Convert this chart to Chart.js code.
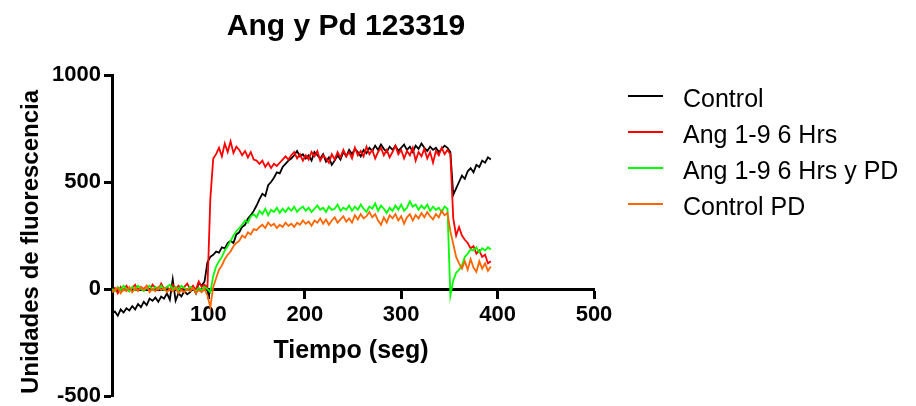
<!DOCTYPE html>
<html>
<head>
<meta charset="utf-8">
<script src="https://cdn.jsdelivr.net/npm/chart.js@4.4.1/dist/chart.umd.min.js"></script>
<style>
  html, body { margin: 0; padding: 0; background: #fff; }
  #wrap { width: 916px; height: 406px; }
</style>
</head>
<body>
<div id="wrap"><canvas id="myChart" width="916" height="406"></canvas></div>
<script>
// tiempo (seg)
const times = [0,3,6,9,12,15,18,21,24,27,30,33,36,39,42,45,48,51,54,57,60,63,66,69,72,75,78,81,84,87,90,93,96,99,
  102,105,108,111,114,117,120,123,126,129,132,135,138,141,144,147,150,153,156,159,162,165,168,171,174,177,180,183,186,189,192,195,198,
  201,204,207,210,213,216,219,222,225,228,231,234,237,240,243,246,249,252,255,258,261,264,267,270,273,276,279,282,285,288,291,294,297,
  300,303,306,309,312,315,318,321,324,327,330,333,336,339,342,345,348,351,354,357,360,363,366,369,372,375,378,381,384,387,390,393];

const control = [-115,-105,-125,-95,-110,-90,-100,-80,-95,-70,-85,-60,-75,-45,-55,-40,-60,-35,-45,-20,-50,45,-55,-20,-35,-10,-25,-15,5,-20,30,15,35,125,
  150,160,175,170,195,190,215,225,215,255,265,290,300,330,345,365,390,420,445,435,485,500,520,545,540,570,585,600,610,625,645,620,630,
  610,625,600,640,625,610,630,595,615,580,600,625,605,640,620,650,630,655,640,620,650,635,660,645,670,650,675,655,640,665,650,670,645,
  660,675,650,665,640,670,655,680,660,645,665,650,660,640,655,670,660,640,440,470,500,530,515,550,565,545,580,570,600,590,615,605];

const ang = [-10,5,-20,10,-5,15,-10,5,20,-5,10,0,15,-10,20,5,-5,25,0,10,-5,20,0,15,-5,10,25,0,15,-5,35,10,20,5,
  420,610,630,660,620,680,640,690,635,665,650,625,645,615,640,605,600,585,600,570,590,565,585,575,590,605,620,605,625,640,610,630,600,
  625,605,640,620,645,600,625,610,590,630,605,640,615,650,620,640,610,660,625,645,620,665,630,650,610,640,660,625,650,615,640,670,630,
  650,610,645,625,660,600,640,620,655,610,640,590,645,625,660,630,650,630,330,250,290,250,230,215,190,200,165,180,150,160,120,130];

const angPd = [0,-10,10,-5,15,0,-10,10,-5,15,0,-10,5,15,-5,10,0,15,-5,10,20,0,10,-5,15,5,-5,10,0,-10,5,-5,10,0,
  -15,60,105,130,150,180,200,225,250,270,285,300,320,310,340,350,335,365,350,375,345,370,360,380,355,375,360,380,365,385,360,375,385,
  365,380,360,375,390,370,380,360,385,370,375,395,365,380,370,390,365,385,370,395,375,360,385,375,400,365,390,375,355,380,365,390,370,
  395,365,380,410,385,395,370,390,375,395,365,385,370,380,360,385,375,-30,40,75,90,110,150,165,185,180,195,170,190,180,195,185];

const controlPd = [-15,-5,5,-20,0,-10,10,-15,5,-10,10,-5,15,-15,0,-10,10,-5,5,-15,0,-10,5,-20,-5,-15,0,-10,5,-20,-5,-15,0,-30,
  -85,10,50,90,110,140,160,175,200,215,225,250,240,265,255,280,275,290,300,285,310,295,305,285,300,290,310,295,305,290,310,300,320,
  305,315,295,320,310,330,305,325,300,320,335,310,325,340,315,330,310,345,325,350,330,340,360,335,350,320,300,335,310,345,330,350,320,
  340,305,335,350,320,345,330,355,335,360,340,325,350,335,365,345,355,270,210,150,120,95,130,90,140,100,80,130,95,120,85,105];

const seriesNames = ['Control', 'Ang 1-9 6 Hrs', 'Ang 1-9 6 Hrs y PD', 'Control PD'];
const seriesColors = ['#000000', '#ff0000', '#00ff00', '#ff6600'];
const xTicks = [0, 100, 200, 300, 400, 500];
const yTicks = [-500, 0, 500, 1000];

function toPoints(values){
    return times.map(function(t, i){ return {x: t, y: values[i]}; });
}

// titulo, titulos de ejes y leyenda dibujados a mano
const textPlugin = {
    id: 'textPlugin',
    afterDraw(chart){
        const ctx = chart.ctx;
        ctx.save();
        ctx.fillStyle = '#000';
        ctx.textBaseline = 'alphabetic';

        ctx.font = 'bold 30px "Liberation Sans", Arial, sans-serif';
        ctx.textAlign = 'center';
        ctx.fillText('Ang y Pd 123319', 346, 35);

        ctx.font = 'bold 25px "Liberation Sans", Arial, sans-serif';
        ctx.fillText('Tiempo (seg)', 351, 358);

        ctx.save();
        ctx.translate(38, 242);
        ctx.rotate(-Math.PI / 2);
        ctx.font = 'bold 24px "Liberation Sans", Arial, sans-serif';
        ctx.fillText('Unidades de fluorescencia', 0, 0);
        ctx.restore();

        ctx.textAlign = 'left';
        ctx.font = '25px "Liberation Sans", Arial, sans-serif';
        for(let i = 0; i < seriesNames.length; i++){
            const base = 107 + i * 36;
            ctx.fillStyle = seriesColors[i];
            ctx.fillRect(628, base - 12, 35, 2);
            ctx.fillStyle = '#000';
            ctx.fillText(seriesNames[i], 683, base);
        }
        ctx.restore();
    }
};

window.onload = function() {
    const ctx = document.getElementById('myChart').getContext('2d');
    const datasets = [control, ang, angPd, controlPd].map(function(vals, i){
        return {
            label: seriesNames[i],
            data: toPoints(vals),
            borderColor: seriesColors[i],
            backgroundColor: seriesColors[i],
            borderWidth: 1.8,
            pointRadius: 0,
            tension: 0,
            order: 4 - i
        };
    });

    const tickFont = { family: '"Liberation Sans", Arial, sans-serif', size: 22, weight: 'bold' };

    new Chart(ctx, {
        type: 'line',
        data: { datasets: datasets },
        options: {
            responsive: false,
            animation: false,
            layout: { padding: { top: 75, right: 322, bottom: 10, left: 0 } },
            plugins: {
                legend: { display: false },
                title: { display: false },
                tooltip: { enabled: false }
            },
            scales: {
                x: {
                    type: 'linear',
                    position: { y: 0 },
                    min: 0,
                    max: 500,
                    afterBuildTicks: function(scale){
                        scale.ticks = xTicks.map(function(v){ return {value: v}; });
                    },
                    ticks: {
                        color: '#000',
                        padding: 5,
                        maxRotation: 0,
                        font: tickFont,
                        callback: function(v){ return v === 0 ? '' : String(v); }
                    },
                    grid: { drawOnChartArea: false, drawTicks: true, tickLength: 8, tickWidth: 3, tickColor: '#000' },
                    border: { display: true, color: '#000', width: 3 }
                },
                y: {
                    type: 'linear',
                    min: -500,
                    max: 1000,
                    afterFit: function(scale){
                        scale.width = 112;
                        scale.paddingTop = 0;
                        scale.paddingBottom = 0;
                    },
                    afterBuildTicks: function(scale){
                        scale.ticks = yTicks.map(function(v){ return {value: v}; });
                    },
                    ticks: {
                        color: '#000',
                        padding: 3,
                        font: tickFont,
                        callback: function(v){ return String(v); }
                    },
                    grid: { drawOnChartArea: false, drawTicks: true, tickLength: 8, tickWidth: 3, tickColor: '#000' },
                    border: { display: true, color: '#000', width: 3 }
                }
            }
        },
        plugins: [textPlugin]
    });
};
</script>
</body>
</html>
